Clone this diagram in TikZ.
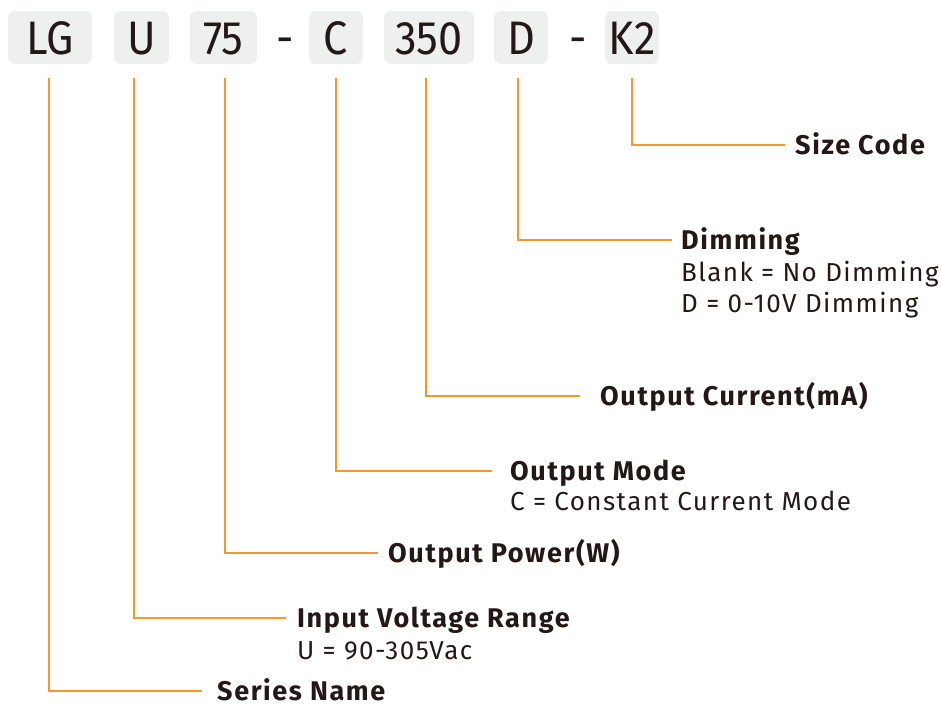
\documentclass[tikz,border=0pt]{standalone}
\usepackage{fontspec}
\setmainfont{Fira Sans}
\newfontfamily\codefont[FakeStretch=0.92]{Fira Sans}
\newfontfamily\lblfont[LetterSpace=6]{Fira Sans}
\newfontfamily\descfont[LetterSpace=5.5]{Fira Sans}
\definecolor{ink}{RGB}{35,24,21}
\definecolor{boxgray}{RGB}{238,239,239}
\definecolor{lead}{RGB}{243,152,45}
\begin{document}
\begin{tikzpicture}[x=1pt,y=-1pt,
  codebox/.style={fill=boxgray, rounded corners=7pt, inner sep=0pt,
    minimum height=53pt, text height=33pt, text depth=0pt, text=ink,
    font=\codefont\fontsize{47}{47}\selectfont},
  dashtxt/.style={inner sep=0pt, text height=33pt, text depth=0pt, text=ink,
    font=\codefont\fontsize{47}{47}\selectfont},
  title/.style={anchor=west, inner sep=0pt, text height=19pt, text depth=0pt, text=ink,
    font=\lblfont\bfseries\fontsize{27}{31}\selectfont},
  desc/.style={anchor=west, inner sep=0pt, text height=19pt, text depth=0pt, text=ink,
    font=\descfont\fontsize{26}{31}\selectfont},
  leader/.style={draw=lead, line width=1.5pt}]
\useasboundingbox (0,0) rectangle (941,704);
% code boxes
\node[codebox, minimum width=84pt] (lg) at (50,37.5) {LG};
\node[codebox, minimum width=55pt] (u) at (141.5,37.5) {U};
\node[codebox, minimum width=67pt] (p75) at (223.5,37.5) {75};
\node[dashtxt] (d1) at (285,38) {-};
\node[codebox, minimum width=54pt] (c) at (336,37.5) {C};
\node[codebox, minimum width=90pt] (i350) at (429,37.5) {350};
\node[codebox, minimum width=54pt] (d) at (521,37.5) {D};
\node[dashtxt] (d2) at (578,38) {-};
\node[codebox, minimum width=54pt] (k2) at (632,37.5) {K2};
% leader tops
\coordinate (tlg) at (49,78);
\coordinate (tu) at (134,78);
\coordinate (t75) at (225,78);
\coordinate (tc) at (336,78);
\coordinate (t350) at (426,78);
\coordinate (td) at (518,78);
\coordinate (tk2) at (632,78);
% labels
\node[title] (size) at (795,145) {Size Code};
\node[title] (dim) at (681,240) {Dimming};
\node[desc] (dim1) at (681,272) {Blank = No Dimming};
\node[desc] (dim2) at (681,303) {D = 0-10V Dimming};
\node[title] (cur) at (600,396) {Output Current(mA)};
\node[title] (mode) at (510,471) {Output Mode};
\node[desc] (mode1) at (510,501) {C = Constant Current Mode};
\node[title] (pow) at (388,553) {Output Power(W)};
\node[title] (inp) at (297,618) {Input Voltage Range};
\node[desc] (inp1) at (297,650) {U = 90-305Vac};
\node[title] (ser) at (217,691) {Series Name};
% leaders
\draw[leader] (tk2) |- ([xshift=-10pt]size.west);
\draw[leader] (td) |- ([xshift=-9pt]dim.west);
\draw[leader] (t350) |- ([xshift=-20pt]cur.west);
\draw[leader] (tc) |- ([xshift=-18pt]mode.west);
\draw[leader] (t75) |- ([xshift=-10pt]pow.west);
\draw[leader] (tu) |- ([xshift=-11pt]inp.west);
\draw[leader] (tlg) |- ([xshift=-15pt]ser.west);
\end{tikzpicture}
\end{document}
